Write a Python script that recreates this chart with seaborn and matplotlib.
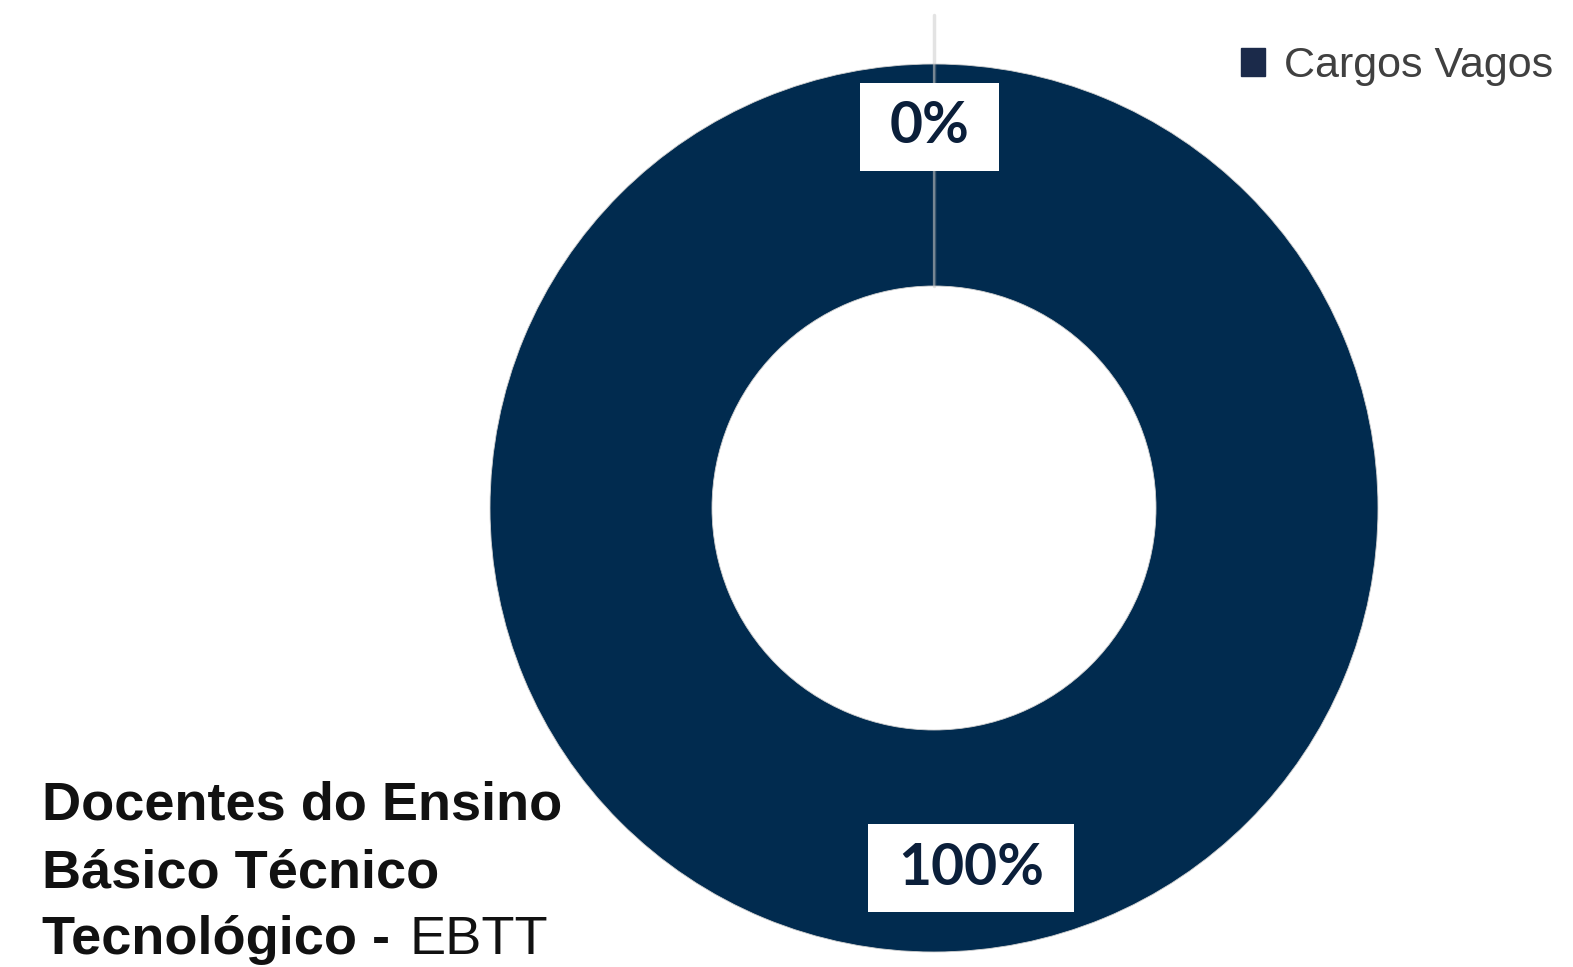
import matplotlib
matplotlib.use("Agg")
import matplotlib.pyplot as plt
import matplotlib.patches as mpatches
import seaborn as sns
import numpy as np

# ---- data ----
categories = ["Cargos Vagos", "Cargos Ocupados"]
values = [100, 0]
pct_labels = ["100%", "0%"]
title_lines = ["Docentes do Ensino", "Básico Técnico", "Tecnológico - "]
title_normal = "EBTT"

sns.set_theme(style="white")
plt.rcParams['font.family'] = ['Liberation Sans', 'DejaVu Sans']

navy = "#012B4F"
colors = [navy, navy]

W, H = 1573, 967
fig = plt.figure(figsize=(W / 100, H / 100), dpi=100)
R_px = 444
cx, cy = 934, 508
ax = fig.add_axes([(cx - R_px) / W, (H - cy - R_px) / H, 2 * R_px / W, 2 * R_px / H])

wedges, _ = ax.pie(values, colors=colors, startangle=90, counterclock=False,
                   radius=1.0, wedgeprops=dict(width=0.5, edgecolor="#d0d0d0", linewidth=0.6))
ax.set_xlim(-1, 1)
ax.set_ylim(-1, 1)
ax.set_aspect("equal")
ax.axis("off")

# leader line at the zero-size slice
theta0 = np.deg2rad(wedges[1].theta1)
ax.plot([0.5 * np.cos(theta0), 1.11 * np.cos(theta0)],
        [0.5 * np.sin(theta0), 1.11 * np.sin(theta0)],
        color="#b0b0b0", alpha=0.35, lw=2.5, clip_on=False, zorder=3)

# percentage labels
label_r = [0.80, 0.87]
label_dx = [0.083, -0.01]
texts = []
for w, lab, r, dx in zip(wedges, pct_labels, label_r, label_dx):
    span = w.theta2 - w.theta1
    if span > 300:
        mid = np.deg2rad(-90)
    elif span < 1:
        mid = np.deg2rad(w.theta1)
    else:
        mid = np.deg2rad((w.theta1 + w.theta2) / 2)
    x, y = r * np.cos(mid) + dx, r * np.sin(mid)
    t = ax.text(x, y, lab, ha="center", va="center_baseline", fontsize=41, fontweight="bold",
                family=["Lato", "DejaVu Sans"], color="#0B1F3A", zorder=5)
    texts.append(t)

fig.canvas.draw()
pad_x, box_h = 30, 88
for t in texts:
    bb = t.get_window_extent()
    xc, yc = (bb.x0 + bb.x1) / 2, (bb.y0 + bb.y1) / 2
    wbox = bb.width + 2 * pad_x
    rect = mpatches.Rectangle(((xc - wbox / 2) / W, (yc - box_h / 2) / H), wbox / W, box_h / H,
                              transform=fig.transFigure, facecolor="white", edgecolor="none",
                              zorder=4, clip_on=False)
    ax.add_patch(rect)

# legend
handle = plt.Rectangle((0, 0), 1, 1, color="#1B2A4A")
fig.legend([handle], [categories[0]], loc="center left", bbox_to_anchor=(1241 / W, 1 - 66 / H),
           frameon=False, fontsize=31, handlelength=0.55, handleheight=0.62,
           handletextpad=0.45, labelcolor="#404040", borderpad=0, borderaxespad=0)

# bottom-left title
baselines = [820, 887, 954]
last = None
for line, b in zip(title_lines, baselines):
    last = fig.text(42 / W, 1 - b / H, line, ha="left", va="baseline", fontsize=39,
                    fontweight="bold", color="#111111")
fig.canvas.draw()
bb = last.get_window_extent()
fig.text(bb.x1 / W + 0.003, 1 - baselines[-1] / H, title_normal, ha="left", va="baseline",
         fontsize=39, color="#111111")

fig.savefig("out.png", dpi=100, facecolor="white")
